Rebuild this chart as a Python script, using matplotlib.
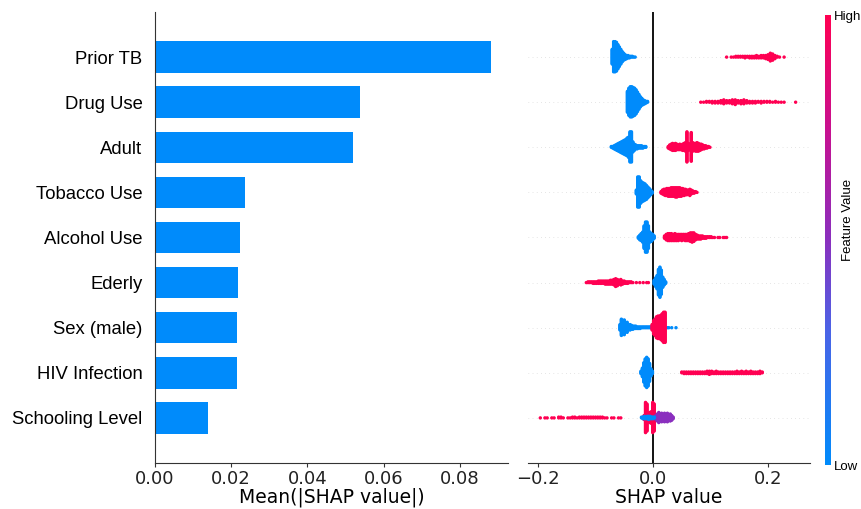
import numpy as np
import matplotlib
matplotlib.use("Agg")
import matplotlib as mpl
import matplotlib.pyplot as plt
from matplotlib.colors import LinearSegmentedColormap

features = ["Prior TB", "Drug Use", "Adult", "Tobacco Use", "Alcohol Use",
            "Ederly", "Sex (male)", "HIV Infection", "Schooling Level"]
mean_abs_shap = [0.0881, 0.0538, 0.0519, 0.0236, 0.0223, 0.0218, 0.0215, 0.0215, 0.0139]

# beeswarm read off the picture as histograms:
# (first shap value, bin step, points per bin, feature level 0=low .. 1=high)
prior_tb_low = (-0.071, 0.0025, [20, 40, 40, 38, 32, 26, 20, 14, 10, 7, 5, 4, 3, 2, 2, 1, 1], 0.0)
prior_tb_high = (0.128, 0.004, [1, 0, 1, 1, 2, 2, 2, 2, 3, 2, 3, 3, 3, 4, 3, 4, 4, 5, 7, 11, 9, 5, 2, 1, 0, 1], 1.0)
drug_low = (-0.0445, 0.0025, [28, 36, 40, 40, 38, 36, 32, 26, 20, 14, 10, 7, 5, 3, 2], 0.0)
drug_high = (0.083, 0.005, [1, 1, 2, 2, 3, 3, 3, 4, 6, 4, 4, 6, 7, 4, 5, 6, 4, 3, 3, 3, 2, 3, 2, 2, 2,
                            1, 2, 1, 1, 1, 0, 0, 0, 1], 1.0)
adult_low = (-0.0725, 0.0025, [2, 3, 5, 7, 9, 11, 13, 15, 17, 19, 21, 24, 27, 40, 40, 14, 9, 6, 5, 4,
                               4, 4, 3, 2, 2], 0.0)
adult_high = (0.0265, 0.0025, [3, 6, 8, 10, 9, 10, 8, 7, 8, 7, 9, 10, 12, 40, 10, 8, 38, 12, 10, 11,
                               12, 11, 9, 8, 6, 5, 4, 3, 2, 1], 1.0)
tobacco_low = (-0.029, 0.0025, [6, 40, 40, 30, 26, 24, 22, 19, 15, 11, 7, 3], 0.0)
tobacco_high = (0.014, 0.0025, [3, 6, 8, 9, 10, 11, 11, 12, 12, 12, 13, 13, 12, 12, 11, 10, 9, 8, 7, 6,
                                9, 6, 4, 3, 2, 1], 1.0)
alcohol_low = (-0.0255, 0.0025, [3, 7, 10, 14, 30, 40, 40, 30, 14, 11, 8, 4], 0.0)
alcohol_high = (0.020, 0.003, [4, 8, 10, 10, 10, 9, 10, 9, 9, 8, 9, 8, 9, 9, 10, 12, 13, 12, 8, 6, 5,
                               5, 4, 3, 3, 2, 2, 2, 1, 1, 0, 1, 1, 0, 1, 1, 1], 1.0)
ederly_high = (-0.116, 0.003, [1, 2, 2, 2, 3, 3, 3, 4, 4, 4, 4, 5, 5, 5, 6, 6, 8, 11, 9, 6, 8, 5, 4, 3,
                               3, 2, 2, 1, 0, 1, 0, 1, 0, 1, 0, 1, 1], 1.0)
ederly_low = (0.002, 0.0025, [6, 12, 18, 34, 40, 32, 14, 8, 3], 0.0)
sex_low = (-0.0575, 0.0025, [8, 22, 10, 20, 8, 14, 6, 8, 6, 5, 4, 4, 3, 3, 3, 2, 2, 2, 2, 2, 2, 2, 2,
                             2, 2, 2, 1, 1, 1, 1, 1, 1, 0, 1, 1, 0, 1, 0, 0, 1], 0.0)
sex_high = (-0.0015, 0.0025, [8, 18, 22, 28, 30, 30, 32, 36, 40, 40], 1.0)
hiv_low = (-0.021, 0.0025, [4, 12, 26, 36, 40, 36, 24, 10, 4], 0.0)
hiv_high = (0.050, 0.004, [2, 3, 3, 3, 3, 3, 3, 3, 3, 3, 3, 4, 5, 4, 3, 4, 3, 3, 3, 3, 3, 3, 3, 3, 4,
                           3, 4, 3, 4, 3, 4, 3, 3, 3, 4, 2], 1.0)
school_high_far = (-0.196, 0.004, [1, 0, 1, 1, 0, 1, 1, 0, 2, 2, 1, 0, 1, 1, 2, 2, 1, 2, 2, 2, 2, 2, 2,
                                   2, 2, 2, 2, 2, 1, 1, 0, 1, 1, 0, 1, 1], 1.0)
school_high_near = (-0.0155, 0.0025, [6, 40, 36, 12, 14, 16, 40, 36, 8], 1.0)
school_mid = (0.005, 0.0025, [6, 10, 14, 10, 12, 9, 12, 9, 12, 8, 10, 7, 3], 0.5)
school_low = (-0.020, 0.0025, [2, 3, 4, 3, 4, 5, 4, 3, 3, 2], 0.0)

swarm = {
    "Prior TB": [prior_tb_low, prior_tb_high],
    "Drug Use": [drug_low, drug_high],
    "Adult": [adult_low, adult_high],
    "Tobacco Use": [tobacco_low, tobacco_high],
    "Alcohol Use": [alcohol_low, alcohol_high],
    "Ederly": [ederly_high, ederly_low],
    "Sex (male)": [sex_low, sex_high],
    "HIV Infection": [hiv_low, hiv_high],
    "Schooling Level": [school_high_far, school_high_near, school_mid, school_low],
}

shap_red_blue = LinearSegmentedColormap.from_list(
    "red_blue", [(0.0, "#008bfb"), (0.3, "#4b63e6"), (0.5, "#8a2fbe"),
                 (0.75, "#c8108f"), (1.0, "#ff0052")])


def swarm_points(clusters):
    # stack points of each bin up/down like shap's beeswarm
    xs, offs, lv = [], [], []
    for start, step, counts, level in clusters:
        for i, n in enumerate(counts):
            for k in range(n):
                xs.append(start + i * step)
                offs.append(np.ceil(k / 2) * ((k % 2) * 2 - 1))
                lv.append(level)
    offs = np.array(offs, dtype=float)
    offs *= 0.9 * 0.4 / np.max(offs + 1)
    return np.array(xs), offs, np.array(lv)


W, H = 861, 509
fig = plt.figure(figsize=(W / 100, H / 100), dpi=100)
ax1 = fig.add_axes([155 / W, 46 / H, 353 / W, 451 / H])
ax2 = fig.add_axes([528 / W, 46 / H, 282 / W, 451 / H])
cax = fig.add_axes([825 / W, 44 / H, 6 / W, 450 / H])

ypos = np.arange(len(features))[::-1]

# left: mean |shap| bars
ax1.barh(ypos, mean_abs_shap, height=0.7, color="#008bfb")
ax1.set_ylim(-1, len(features))
ax1.set_xlim(0, 0.0926)
ax1.set_xticks([0, 0.02, 0.04, 0.06, 0.08])
ax1.set_xticklabels(["0.00", "0.02", "0.04", "0.06", "0.08"], fontsize=13)
ax1.set_yticks(ypos)
ax1.set_yticklabels(features, fontsize=13.3, family="Liberation Sans")
ax1.tick_params(axis="y", length=0, pad=9)
ax1.tick_params(axis="x", length=3, pad=2, color="#333333", labelcolor="#222222")
ax1.set_xlabel("Mean(|SHAP value|)", fontsize=13.5, labelpad=0)
for s in ["top", "right"]:
    ax1.spines[s].set_visible(False)
ax1.spines["left"].set_color("#333333")
ax1.spines["bottom"].set_color("#333333")

# right: beeswarm
for name, y in zip(features, ypos):
    ax2.axhline(y, color="#cccccc", lw=0.5, dashes=(1, 5), zorder=-1)
    xs, offs, lv = swarm_points(swarm[name])
    ax2.scatter(xs, y + offs, c=lv, cmap=shap_red_blue, vmin=0, vmax=1,
                s=6, linewidths=0, zorder=3)
ax2.axvline(0, color="black", lw=1.3, zorder=2)
ax2.set_ylim(-1, len(features))
ax2.set_xlim(-0.2174, 0.273)
ax2.set_xticks([-0.2, 0.0, 0.2])
ax2.set_xticklabels(["\u22120.2", "0.0", "0.2"], fontsize=13)
ax2.set_yticks([])
ax2.tick_params(axis="x", length=3, pad=2, color="#333333", labelcolor="#222222")
ax2.set_xlabel("SHAP value", fontsize=13.5, labelpad=0)
for s in ["top", "right", "left"]:
    ax2.spines[s].set_visible(False)
ax2.spines["bottom"].set_color("#333333")

# colour bar
cb = mpl.colorbar.ColorbarBase(cax, cmap=shap_red_blue, orientation="vertical")
cb.set_ticks([0, 1])
cb.set_ticklabels(["Low", "High"])
cb.outline.set_visible(False)
cax.tick_params(length=0, pad=2, labelsize=9.5)
for t in cax.get_yticklabels():
    t.set_family("Liberation Sans")
fig.text(848 / W, 1 - 220 / H, "Feature Value", rotation=90, ha="center", va="center",
         fontsize=9.5, family="Liberation Sans")

fig.savefig("out.png", dpi=100)
